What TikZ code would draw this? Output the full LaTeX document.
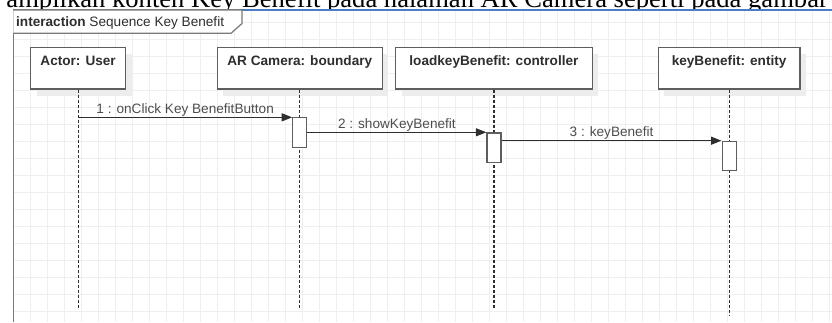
\documentclass[tikz,border=0pt]{standalone}
\usepackage{fontspec}
\setmainfont{Liberation Sans}
\newfontfamily\bodyserif{Liberation Serif}
\usetikzlibrary{arrows.meta,shadows}
\definecolor{gridgray}{HTML}{EFEFEF}
\definecolor{framegray}{HTML}{7A7A7A}
\definecolor{boxgray}{HTML}{5E5E5E}
\definecolor{inkgray}{HTML}{2E2E2E}
\definecolor{selblue}{HTML}{4A7CC8}
\definecolor{shadowgray}{HTML}{EDEDED}
\begin{document}
\begin{tikzpicture}[x=1pt,y=-1pt,
  font=\fontsize{13.6}{16}\selectfont,
  gridline/.style={draw=gridgray,line width=0.9pt},
  lifebox/.style={draw=boxgray,line width=1.2pt,fill=white,rectangle,inner sep=0pt,
    anchor=north west,
    general shadow={shadow xshift=6pt,shadow yshift=-7pt,fill=shadowgray}},
  boxtitle/.style={anchor=base,inner sep=0pt,font=\fontsize{13.6}{16}\selectfont\bfseries,text=inkgray,yshift=-18.3pt},
  lifeline/.style={draw=inkgray,line width=1.1pt,dash pattern=on 3pt off 2pt},
  actbox/.style={draw=boxgray,line width=1.2pt,fill=white,rectangle,inner sep=0pt,
    minimum width=14pt,anchor=north},
  msg/.style={draw=inkgray,line width=1.2pt,-{Triangle[length=10.5pt,width=8pt]}},
  msglabel/.style={midway,anchor=base,inner sep=0pt,yshift=4pt,text=inkgray!85}
]
\useasboundingbox (0,0) rectangle (832,322);

% running text line of the page, cut by the diagram below it
\begin{scope}
  \clip (0,0) rectangle (832,10);
  \node[anchor=base east,inner sep=0pt,font=\bodyserif\fontsize{26.6}{30}\selectfont]
    (pageline) at (828,7.3) {ampilkan konten Key Benefit pada halaman AR Camera seperti pada gambar};
\end{scope}

% background grid
\begin{scope}
  \clip (13.3,10) rectangle (832,322);
  \foreach \gx in {13.7,30.7,...,840} \draw[gridline] (\gx,10) -- (\gx,322);
  \foreach \gy in {5.3,22.3,...,330} \draw[gridline] (13.3,\gy) -- (832,\gy);
\end{scope}

% interaction frame and its name tab
\draw[framegray,line width=1.2pt] (13.3,322) -- (13.3,10) -- (242,10);
\draw[selblue,line width=1.1pt] (242,10) -- (832,10);
\draw[framegray,line width=1.2pt,fill=white]
  (13.3,10) -- (242,10) -- (242,23.5) -- (231,33.3) -- (13.3,33.3);
\node[anchor=base west,inner sep=0pt,text=inkgray] (tabtext) at (16,26.5)
  {\textbf{interaction} Sequence Key Benefit};

% lifeline heads
\node[lifebox,minimum width=95pt,minimum height=41.6pt] (user) at (30,46.7) {};
\node[lifebox,minimum width=165pt,minimum height=41.6pt] (cam) at (216.7,46.7) {};
\node[lifebox,minimum width=196.7pt,minimum height=41.6pt] (ctrl) at (395,46.7) {};
\node[lifebox,minimum width=141.6pt,minimum height=41.6pt] (ent) at (657.7,46.7) {};

\node[boxtitle] (userT) at (user.north) {Actor: User};
\node[boxtitle] (camT) at (cam.north) {AR Camera: boundary};
\node[boxtitle] (ctrlT) at (ctrl.north) {loadkeyBenefit: controller};
\node[boxtitle] (entT) at (ent.north) {keyBenefit: entity};

% lifeline ends
\coordinate (userE) at (user.south |- 0,308);
\coordinate (camE) at (cam.south |- 0,308);
\coordinate (ctrlE) at (ctrl.south |- 0,309);
\coordinate (entE) at (ent.south |- 0,315);

\draw[lifeline] (user.south) -- (userE);
\draw[lifeline] (cam.south) -- (camE);
\draw[lifeline] (ctrl.south) -- (ctrlE);
\draw[lifeline] (ent.south) -- (entE);

% activations
\node[actbox,minimum height=30pt] (a1) at (cam.south |- 0,116.7) {};
\node[actbox,minimum height=29.4pt] (a2) at (ctrl.south |- 0,132.3) {};
\node[actbox,minimum height=29.3pt] (a3) at (ent.south |- 0,140.7) {};

% messages
\coordinate (m1) at (user.south |- 0,117.3);
\draw[msg] (m1) -- (m1 -| a1.west)
  node[msglabel] {1 : onClick Key BenefitButton};
\draw[msg] (a1.east |- a2.north) -- (a2.north west)
  node[msglabel] {2 : showKeyBenefit};
\draw[msg] (a2.east |- a3.north) -- (a3.north west)
  node[msglabel] {3 : keyBenefit};
\end{tikzpicture}
\end{document}
